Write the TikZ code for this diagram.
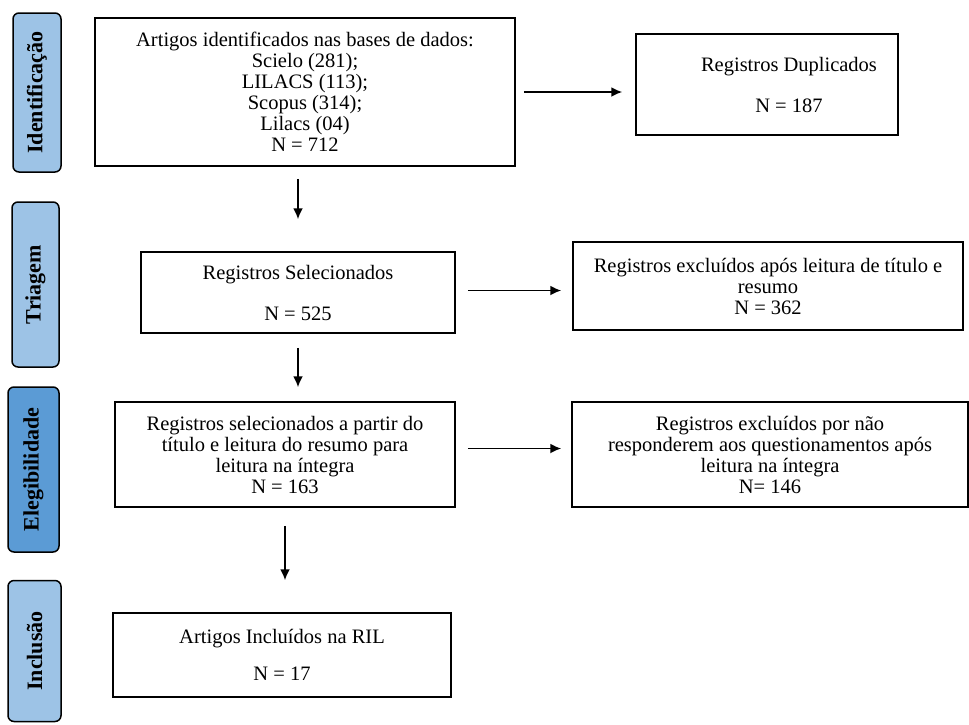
\documentclass[tikz,border=0pt]{standalone}
\usepackage{fontspec}
\setmainfont{Liberation Serif}
\usetikzlibrary{positioning,arrows.meta}

\definecolor{faseclaro}{HTML}{9DC3E6}
\definecolor{faseescuro}{HTML}{5B9BD5}

\tikzset{
  caixa/.style={draw, rectangle, line width=1.5pt, align=center, inner sep=0pt,
    font=\fontsize{20.5}{21}\selectfont},
  fase/.style={draw, rectangle, rounded corners=6pt, line width=1.5pt, rotate=90,
    inner sep=0pt, font=\fontsize{22}{24}\selectfont\bfseries},
  seta/.style={-{Latex[length=11pt,width=10pt]}, line width=1.8pt},
}

\begin{document}
\begin{tikzpicture}[x=1pt, y=1pt]
  \useasboundingbox (0,0) rectangle (969,-724);

  % fases
  \node[fase, fill=faseclaro, minimum width=159pt, minimum height=48pt] (idt) at (37,-92.5) {Identificação};
  \node[fase, fill=faseclaro, minimum width=165pt, minimum height=47pt] (tri) at (35.5,-284.5) {Triagem};
  \node[fase, fill=faseescuro, minimum width=165pt, minimum height=51pt] (ele) at (33.5,-469.5) {Elegibilidade};
  \node[fase, fill=faseclaro, minimum width=141pt, minimum height=53pt] (inc) at (34.5,-651) {Inclusão};

  % caixas
  \node[caixa, minimum width=420pt, minimum height=148pt] (art) at (305,-92)
    {Artigos identificados nas bases de dados:\\ Scielo (281);\\ LILACS (113);\\ Scopus (314);\\ Lilacs (04)\\ N = 712};
  \node[caixa, minimum width=262pt, minimum height=101pt] (dup) at (767,-84.5)
    {\hspace*{44pt}Registros Duplicados\\[20pt] \hspace*{44pt}N = 187};
  \node[caixa, minimum width=314pt, minimum height=81pt] (sel) at (298,-292.5)
    {Registros Selecionados\\[20pt] N = 525};
  \node[caixa, minimum width=390pt, minimum height=88pt] (exc1) at (768,-286)
    {Registros excluídos após leitura de título e\\ resumo\\ N = 362};
  \node[caixa, minimum width=340pt, minimum height=105pt] (leit) at (285,-454.5)
    {Registros selecionados a partir do\\ título e leitura do resumo para\\ leitura na íntegra\\ N = 163};
  \node[caixa, minimum width=396pt, minimum height=105pt] (exc2) at (770,-454.5)
    {Registros excluídos por não\\ responderem aos questionamentos após\\ leitura na íntegra\\ N= 146};
  \node[caixa, minimum width=338pt, minimum height=84pt] (incl) at (282,-655)
    {Artigos Incluídos na RIL\\[16pt] N = 17};

  % setas
  \draw[seta, shorten <=8pt, shorten >=13pt] (art.east) -- (art.east -| dup.west);
  \draw[seta, shorten <=12pt, shorten >=32pt] (art.south -| sel.north) -- (sel.north);
  \draw[seta, shorten <=12pt, shorten >=11pt] ([yshift=2pt]sel.east) -- ([yshift=2pt]sel.east -| exc1.west);
  \draw[seta, shorten <=14pt, shorten >=14pt] (sel.south) -- (sel.south |- leit.north);
  \draw[seta, shorten <=12pt, shorten >=10pt] ([yshift=6pt]leit.east) -- ([yshift=6pt]leit.east -| exc2.west);
  \draw[seta, shorten <=18pt, shorten >=32pt] (leit.south) -- (leit.south |- incl.north);
\end{tikzpicture}
\end{document}
